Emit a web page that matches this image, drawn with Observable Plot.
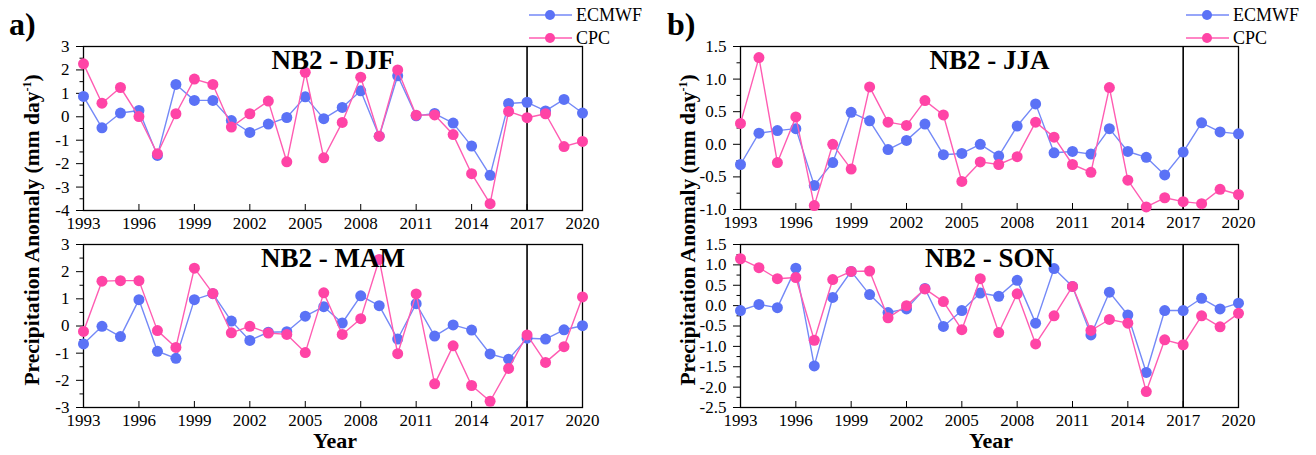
<!DOCTYPE html>
<html>
<head>
<meta charset="utf-8">
<script src="https://cdn.jsdelivr.net/npm/d3@7"></script>
<script src="https://cdn.jsdelivr.net/npm/@observablehq/plot@0.6"></script>
<style>
  html, body { margin: 0; padding: 0; background: #fff; }
  #root { position: relative; width: 1316px; height: 455px; overflow: hidden; font-family: "Liberation Serif", "Times New Roman", serif; color: #000; }
  .abs { position: absolute; white-space: nowrap; line-height: 1; }
  .ylab { font-weight: bold; font-size: 21.5px; transform: translate(-50%, -50%) rotate(-90deg); }
  .xlab { font-weight: bold; font-size: 22px; transform: translate(-50%, -50%); }
  .plab { font-weight: bold; font-size: 32px; }
  .leg { font-size: 18px; display: flex; align-items: center; }
</style>
</head>
<body>
<div id="root"></div>
<script>
// ---- Data ----
const years = [1993,1994,1995,1996,1997,1998,1999,2000,2001,2002,2003,2004,2005,2006,2007,2008,2009,2010,2011,2012,2013,2014,2015,2016,2017,2018,2019,2020];

const djfEcmwf = [0.87,-0.47,0.16,0.27,-1.65,1.38,0.70,0.70,-0.16,-0.67,-0.31,-0.03,0.85,-0.08,0.40,1.11,-0.83,1.75,0.04,0.14,-0.27,-1.25,-2.50,0.57,0.62,0.25,0.74,0.16];
const djfCpc   = [2.26,0.58,1.25,0.01,-1.58,0.13,1.61,1.38,-0.44,0.13,0.67,-1.92,1.90,-1.75,-0.24,1.69,-0.83,2.00,0.07,0.08,-0.76,-2.43,-3.71,0.23,-0.04,0.13,-1.27,-1.05];

const mamEcmwf = [-0.66,-0.01,-0.39,0.97,-0.93,-1.19,0.97,1.19,0.18,-0.53,-0.23,-0.21,0.36,0.71,0.11,1.11,0.75,-0.48,0.82,-0.37,0.04,-0.15,-1.03,-1.22,-0.45,-0.48,-0.14,0.01];
const mamCpc   = [-0.20,1.65,1.67,1.67,-0.17,-0.79,2.13,1.20,-0.25,-0.01,-0.26,-0.31,-0.98,1.22,-0.31,0.27,2.45,-1.02,1.18,-2.13,-0.73,-2.19,-2.77,-1.56,-0.33,-1.34,-0.76,1.07];

const jjaEcmwf = [-0.31,0.17,0.21,0.24,-0.63,-0.28,0.49,0.36,-0.08,0.06,0.31,-0.16,-0.14,0.00,-0.18,0.28,0.62,-0.13,-0.11,-0.15,0.24,-0.11,-0.20,-0.47,-0.12,0.33,0.19,0.16];
const jjaCpc   = [0.32,1.33,-0.28,0.42,-0.94,0.00,-0.38,0.88,0.34,0.29,0.67,0.45,-0.57,-0.27,-0.31,-0.19,0.34,0.11,-0.31,-0.43,0.87,-0.55,-0.96,-0.82,-0.88,-0.91,-0.69,-0.77];

const sonEcmwf = [-0.12,0.03,-0.05,0.92,-1.48,0.20,0.84,0.27,-0.17,-0.08,0.42,-0.51,-0.12,0.31,0.23,0.62,-0.43,0.91,0.47,-0.72,0.33,-0.23,-1.64,-0.12,-0.12,0.18,-0.08,0.06];
const sonCpc   = [1.15,0.93,0.66,0.69,-0.85,0.64,0.84,0.85,-0.30,0.00,0.41,0.10,-0.59,0.66,-0.66,0.29,-0.94,-0.25,0.47,-0.61,-0.34,-0.43,-2.11,-0.84,-0.96,-0.25,-0.52,-0.19];

const xTicks = [1993,1996,1999,2002,2005,2008,2011,2014,2017,2020];
const splitYear = [2017];

const djfTicks = [-4,-3,-2,-1,0,1,2,3];
const djfMinor = [-3.5,-2.5,-1.5,-0.5,0.5,1.5,2.5];
const mamTicks = [-3,-2,-1,0,1,2,3];
const mamMinor = [-2.5,-1.5,-0.5,0.5,1.5,2.5];
const jjaTicks = [-1.0,-0.5,0.0,0.5,1.0,1.5];
const jjaMinor = [-0.75,-0.25,0.25,0.75,1.25];
const sonTicks = [-2.5,-2.0,-1.5,-1.0,-0.5,0.0,0.5,1.0,1.5];
const sonMinor = [-2.25,-1.75,-1.25,-0.75,-0.25,0.25,0.75,1.25];

const seriesNames = ["ECMWF", "CPC"];
const titles = ["NB2 - DJF", "NB2 - MAM", "NB2 - JJA", "NB2 - SON"];

// ---- Styles ----
const blueDot = "#5b72f6", blueLine = "#7489f7";
const pinkDot = "#ff44a6", pinkLine = "#ff5cb2";

function panel(o) {
  const data = years.map((y, i) => ({year: y, ecmwf: o.ecmwf[i], cpc: o.cpc[i]}));
  const svg = Plot.plot({
    width: o.width, height: o.height,
    marginTop: o.mt, marginBottom: o.mb, marginLeft: o.ml, marginRight: o.mr,
    style: {fontFamily: "'Liberation Serif', 'Times New Roman', serif", fontSize: "17px", color: "#000", background: "transparent", overflow: "visible"},
    x: {domain: [1993, 2020], label: null},
    y: {domain: o.domain, label: null},
    marks: [
      Plot.axisX({ticks: xTicks, tickSize: -6, tickFormat: () => "", label: null}),
      Plot.axisX({ticks: xTicks, tickSize: 0, tickPadding: 6, tickFormat: d => String(d), label: null}),
      Plot.axisY({ticks: o.ticks, tickSize: 7, tickPadding: 7, tickFormat: o.fmt, label: null}),
      Plot.axisY({ticks: o.minor, tickSize: 3.5, tickFormat: () => "", label: null}),
      Plot.ruleX(splitYear, {stroke: "#000", strokeWidth: 1.6}),
      Plot.frame({stroke: "#000", strokeWidth: 1.3}),
      Plot.line(data, {x: "year", y: "ecmwf", stroke: blueLine, strokeWidth: 1.4}),
      Plot.dot(data, {x: "year", y: "ecmwf", r: 5.5, fill: blueDot}),
      Plot.line(data, {x: "year", y: "cpc", stroke: pinkLine, strokeWidth: 1.4}),
      Plot.dot(data, {x: "year", y: "cpc", r: 5.5, fill: pinkDot}),
      Plot.text([o.title], {frameAnchor: "top", dy: 14, lineAnchor: "middle", fontSize: 27, fontWeight: "bold", fill: "#000"})
    ]
  });
  svg.style.position = "absolute";
  svg.style.left = o.left + "px";
  svg.style.top = o.top + "px";
  return svg;
}

const root = document.getElementById("root");
const intFmt = d => String(d);
const decFmt = d => d.toFixed(1);

root.appendChild(panel({ecmwf: djfEcmwf, cpc: djfCpc, domain: [-4, 3], ticks: djfTicks, minor: djfMinor, fmt: intFmt, title: titles[0],
  left: 0, top: 0, width: 660, height: 230, mt: 46, mb: 20, ml: 83, mr: 78}));
root.appendChild(panel({ecmwf: mamEcmwf, cpc: mamCpc, domain: [-3, 3], ticks: mamTicks, minor: mamMinor, fmt: intFmt, title: titles[1],
  left: 0, top: 230, width: 660, height: 225, mt: 14, mb: 48, ml: 83, mr: 78}));
root.appendChild(panel({ecmwf: jjaEcmwf, cpc: jjaCpc, domain: [-1, 1.5], ticks: jjaTicks, minor: jjaMinor, fmt: decFmt, title: titles[2],
  left: 660, top: 0, width: 656, height: 230, mt: 46, mb: 21, ml: 80, mr: 78}));
root.appendChild(panel({ecmwf: sonEcmwf, cpc: sonCpc, domain: [-2.5, 1.5], ticks: sonTicks, minor: sonMinor, fmt: decFmt, title: titles[3],
  left: 660, top: 230, width: 656, height: 225, mt: 14, mb: 48, ml: 80, mr: 78}));

function addText(cls, html, x, y) {
  const d = document.createElement("div");
  d.className = "abs " + cls;
  d.innerHTML = html;
  d.style.left = x + "px";
  d.style.top = y + "px";
  root.appendChild(d);
}
const yLabel = "Precipitation Anomaly (mm day<sup style='font-size:12px;vertical-align:8px;line-height:0'>-1</sup>)";
addText("ylab", yLabel, 33, 230);
addText("ylab", yLabel, 689, 230);
addText("xlab", "Year", 335, 441);
addText("xlab", "Year", 991, 441);
addText("plab", "a)", 9, 8);
addText("plab", "b)", 667, 8);

function legend(x, y, name, line, dot) {
  const d = document.createElement("div");
  d.className = "abs leg";
  d.style.left = x + "px";
  d.style.top = (y - 11) + "px";
  d.innerHTML = `<svg width="46" height="22"><line x1="0" y1="11" x2="43" y2="11" stroke="${line}" stroke-width="1.4"/><circle cx="21" cy="11" r="5" fill="${dot}"/></svg><span style="margin-left:1px">${name}</span>`;
  root.appendChild(d);
}
legend(529, 15, seriesNames[0], blueLine, blueDot);
legend(529, 38, seriesNames[1], pinkLine, pinkDot);
legend(1186, 15, seriesNames[0], blueLine, blueDot);
legend(1186, 38, seriesNames[1], pinkLine, pinkDot);
</script>
</body>
</html>
